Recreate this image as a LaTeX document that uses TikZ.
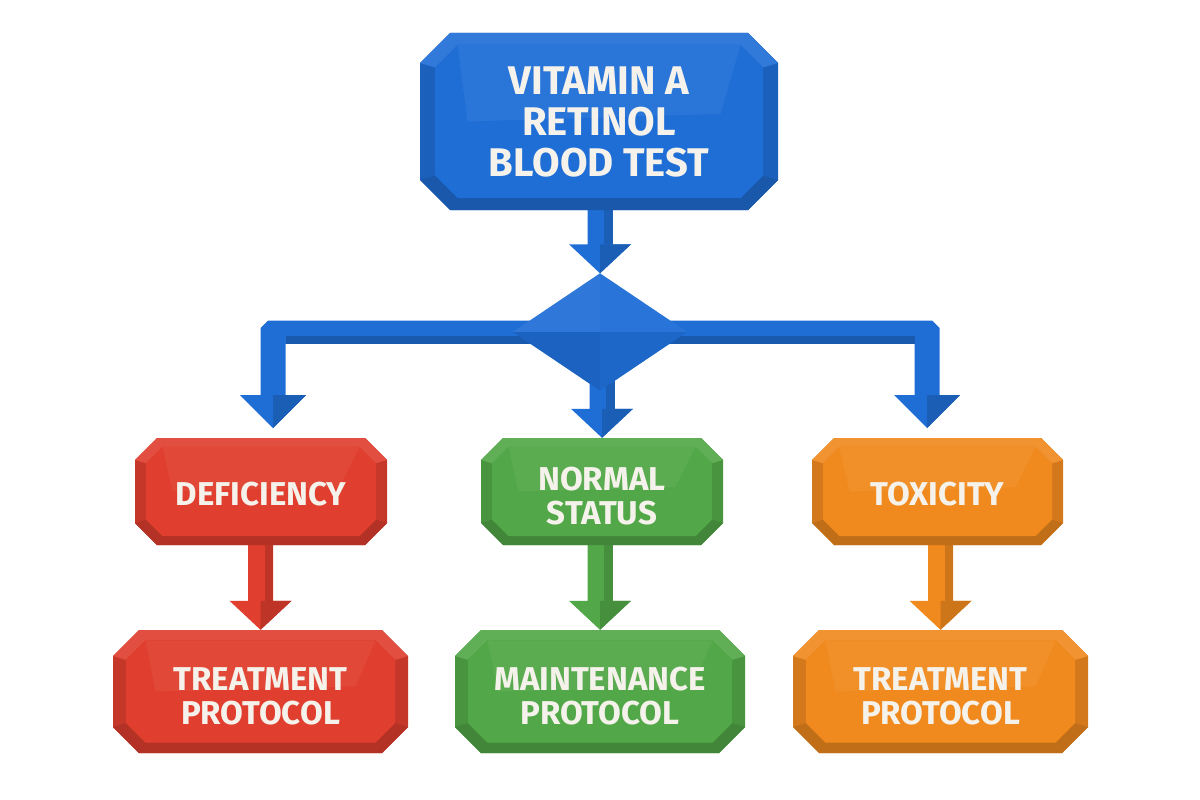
\documentclass[tikz,border=0pt]{standalone}
\usepackage{fontspec}
\setmainfont{Fira Sans}
\usetikzlibrary{calc,shapes.geometric}
\pgfdeclarelayer{bg}
\pgfsetlayers{bg,main}
\definecolor{cblue}{RGB}{31,110,214}
\definecolor{cred}{RGB}{224,62,46}
\definecolor{cgreen}{RGB}{82,168,72}
\definecolor{corange}{RGB}{240,138,30}
\definecolor{ctext}{RGB}{245,242,235}
\tikzset{
  boxtext/.style={inner sep=0pt, text=ctext, align=center},
  bigfont/.style={font=\fontsize{40}{41}\selectfont\bfseries},
  smallfont/.style={font=\fontsize{33}{34}\selectfont\bfseries},
}
% name, cx, cy, w, h, chamfer, colour, text, font style
\newcommand\facetbox[9]{%
  \pgfmathsetmacro\bxl{#2-#4/2}\pgfmathsetmacro\bxr{#2+#4/2}%
  \pgfmathsetmacro\byt{#3-#5/2}\pgfmathsetmacro\byb{#3+#5/2}%
  \pgfmathsetmacro\bch{#6}%
  \pgfmathsetmacro\bd{#6*0.5}%
  \pgfmathsetmacro\ixl{\bxl+\bd}\pgfmathsetmacro\ixr{\bxr-\bd}%
  \pgfmathsetmacro\iyt{\byt+\bd*0.8}\pgfmathsetmacro\iyb{\byb-\bd*0.8}%
  \pgfmathsetmacro\ich{\bch*0.75}%
  \fill[#7!88!black] ({\bxl+\bch},\byt) -- ({\bxr-\bch},\byt) -- (\bxr,{\byt+\bch}) -- (\bxr,{\byb-\bch}) -- ({\bxr-\bch},\byb) -- ({\bxl+\bch},\byb) -- (\bxl,{\byb-\bch}) -- (\bxl,{\byt+\bch}) -- cycle;
  \fill[#7!92!white] (\bxl,{\byt+\bch}) -- ({\bxl+\bch},\byt) -- ({\bxr-\bch},\byt) -- (\bxr,{\byt+\bch}) -- (\ixr,{\iyt+\ich}) -- ({\ixr-\ich},\iyt) -- ({\ixl+\ich},\iyt) -- (\ixl,{\iyt+\ich}) -- cycle;
  \fill[#7!80!black] (\bxl,{\byb-\bch}) -- ({\bxl+\bch},\byb) -- ({\bxr-\bch},\byb) -- (\bxr,{\byb-\bch}) -- (\ixr,{\iyb-\ich}) -- ({\ixr-\ich},\iyb) -- ({\ixl+\ich},\iyb) -- (\ixl,{\iyb-\ich}) -- cycle;
  \fill[#7] ({\ixl+\ich},\iyt) -- ({\ixr-\ich},\iyt) -- (\ixr,{\iyt+\ich}) -- (\ixr,{\iyb-\ich}) -- ({\ixr-\ich},\iyb) -- ({\ixl+\ich},\iyb) -- (\ixl,{\iyb-\ich}) -- (\ixl,{\iyt+\ich}) -- cycle;
  \fill[#7!95!white] ({\ixl+\ich},\iyt) -- ({\ixr-\ich},\iyt) -- ({\ixr-\ich-20},{\iyt+0.45*(\iyb-\iyt)}) -- ({\ixl+\ich+10},{\iyt+0.5*(\iyb-\iyt)}) -- cycle;
  \node[inner sep=0pt,minimum width=#4pt,minimum height=#5pt] (#1) at (#2,#3) {};
  \node[boxtext,#9] (#1-t) at (#2,{#3+\textshift}) {#8};
}
\def\textshift{0}
% vertical block arrow: from, to, colour
\newcommand\varrow[3]{%
  \begin{pgfonlayer}{bg}
  \fill[#3] let \p1=(#1), \p2=(#2) in
    ({\x2-12.5pt},\y1) -- ({\x2+12.5pt},\y1) -- ({\x2+12.5pt},{\y2+29pt}) -- ({\x2+31pt},{\y2+29pt}) -- (\x2,\y2) -- ({\x2-31pt},{\y2+29pt}) -- ({\x2-12.5pt},{\y2+29pt}) -- cycle;
  \fill[#3!85!black] let \p2=(#2) in
    (\x2,{\y2+29pt}) -- ({\x2+31pt},{\y2+29pt}) -- (\x2,\y2) -- cycle;
  \fill[#3!85!black] let \p1=(#1), \p2=(#2) in
    ({\x2+4pt},\y1) -- ({\x2+12.5pt},\y1) -- ({\x2+12.5pt},{\y2+29pt}) -- ({\x2+4pt},{\y2+29pt}) -- cycle;
  \end{pgfonlayer}
}
\begin{document}
\begin{tikzpicture}[x=1pt,y=-1pt]
\useasboundingbox (0,0) rectangle (1200,800);
\begin{pgfonlayer}{bg}
\fill[white] (0,0) rectangle (1200,800);
\end{pgfonlayer}

\facetbox{top}{599}{121.5}{358}{177}{30}{cblue}{VITAMIN A\\RETINOL\\BLOOD TEST}{bigfont}

\node[diamond, minimum width=174pt, minimum height=117pt, inner sep=0pt] (dec) at (600,332) {};
\coordinate (tipL) at (273,428);
\coordinate (tipR) at (927,428);

\def\textshift{3}
\facetbox{def}{261}{491.5}{252}{107}{22}{cred}{DEFICIENCY}{smallfont}
\facetbox{tox}{937.5}{491.5}{251}{107}{22}{corange}{TOXICITY}{smallfont}
\def\textshift{5}
\facetbox{norm}{602}{491.5}{242}{107}{22}{cgreen}{NORMAL\\STATUS}{smallfont}
\facetbox{trt1}{260.5}{691.5}{295}{123}{26}{cred}{TREATMENT\\PROTOCOL}{smallfont}
\facetbox{maint}{600}{691.5}{290}{123}{26}{cgreen}{MAINTENANCE\\PROTOCOL}{smallfont}
\facetbox{trt2}{940.5}{691.5}{295}{123}{26}{corange}{TREATMENT\\PROTOCOL}{smallfont}

% connectors
\varrow{top.center}{dec.north}{cblue}
\varrow{dec.center}{norm.north}{cblue}
\varrow{def.center}{trt1.north}{cred}
\varrow{norm.center}{maint.north}{cgreen}
\varrow{tox.center}{trt2.north}{corange}

% branch bars
\fill[cblue] let \p1=(dec.center), \p2=(tipL) in
  (\x1,{\y1+11.5pt}) -- ({\x2-5pt},{\y1+11.5pt}) -- ({\x2-12.5pt},{\y1+4pt}) -- ({\x2-12.5pt},{\y2+33pt}) -- ({\x2-33pt},{\y2+33pt}) -- (\x2,\y2) -- ({\x2+33pt},{\y2+33pt}) -- ({\x2+12.5pt},{\y2+33pt}) -- ({\x2+12.5pt},{\y1-11.5pt}) -- (\x1,{\y1-11.5pt}) -- cycle;
\fill[cblue!82!black] let \p1=(dec.center), \p2=(tipL) in
  ({\x2+12.5pt},{\y1-4pt}) -- (\x1,{\y1-4pt}) -- (\x1,{\y1-11.5pt}) -- ({\x2+12.5pt},{\y1-11.5pt}) -- cycle;
\fill[cblue!85!black] let \p2=(tipL) in
  (\x2,{\y2+33pt}) -- ({\x2+33pt},{\y2+33pt}) -- (\x2,\y2) -- cycle;
\fill[cblue] let \p1=(dec.center), \p2=(tipR) in
  (\x1,{\y1+11.5pt}) -- ({\x2+5pt},{\y1+11.5pt}) -- ({\x2+12.5pt},{\y1+4pt}) -- ({\x2+12.5pt},{\y2+33pt}) -- ({\x2+33pt},{\y2+33pt}) -- (\x2,\y2) -- ({\x2-33pt},{\y2+33pt}) -- ({\x2-12.5pt},{\y2+33pt}) -- ({\x2-12.5pt},{\y1-11.5pt}) -- (\x1,{\y1-11.5pt}) -- cycle;
\fill[cblue!82!black] let \p1=(dec.center), \p2=(tipR) in
  ({\x2-12.5pt},{\y1-4pt}) -- (\x1,{\y1-4pt}) -- (\x1,{\y1-11.5pt}) -- ({\x2-12.5pt},{\y1-11.5pt}) -- cycle;
\fill[cblue!85!black] let \p2=(tipR) in
  (\x2,{\y2+33pt}) -- ({\x2+33pt},{\y2+33pt}) -- (\x2,\y2) -- cycle;

% decision diamond facets
\fill[cblue!93!white] (dec.center) -- (dec.north) -- (dec.west) -- cycle;
\fill[cblue!96!white] (dec.center) -- (dec.north) -- (dec.east) -- cycle;
\fill[cblue!90!black] (dec.center) -- (dec.south) -- (dec.west) -- cycle;
\fill[cblue!94!black] (dec.center) -- (dec.south) -- (dec.east) -- cycle;
\end{tikzpicture}
\end{document}
